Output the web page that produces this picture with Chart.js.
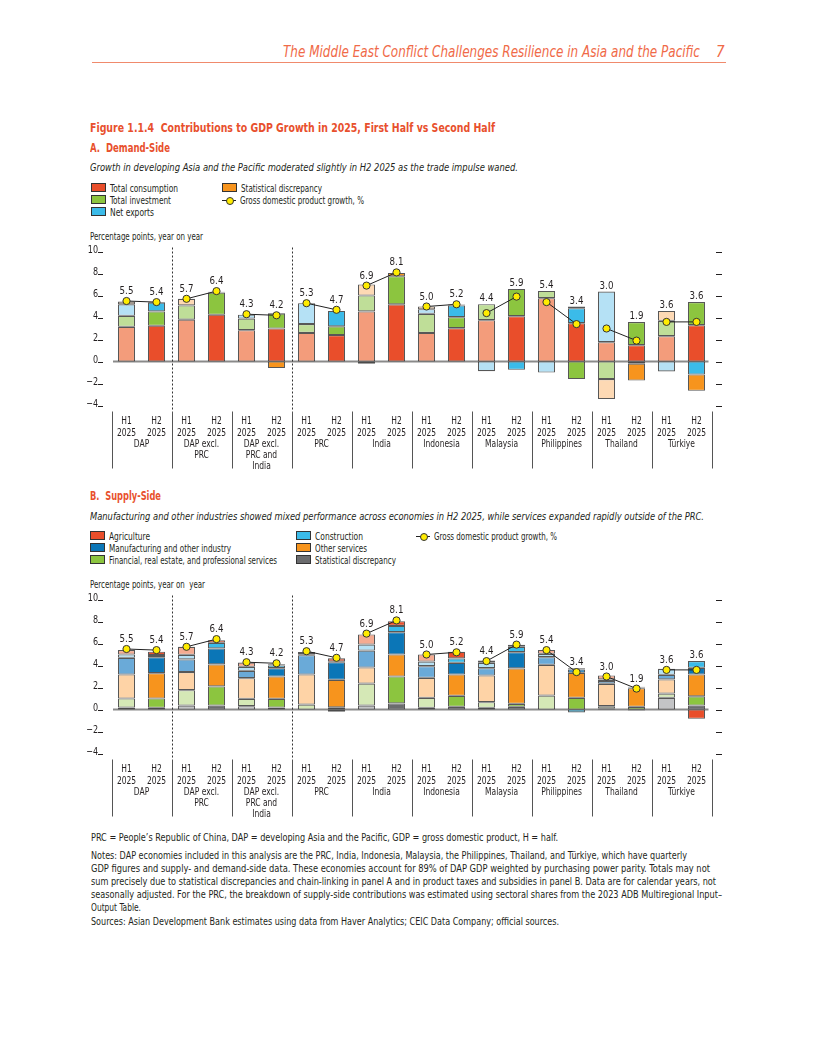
<!DOCTYPE html>
<html><head><meta charset="utf-8">
<script src="https://cdn.jsdelivr.net/npm/chart.js@4.4.1/dist/chart.umd.min.js"></script>
<style>
body{margin:0;background:#fff;}
#page{position:relative;width:816px;height:1056px;overflow:hidden;font-family:"DejaVu Sans Condensed","DejaVu Sans",sans-serif;color:#231f20;}
.t{position:absolute;white-space:nowrap;}
.hd{color:#e8502d;font-weight:bold;}
.sub{font-style:italic;font-size:11px;}
.lg{position:absolute;font-size:10px;line-height:12px;white-space:nowrap;}
.lg span[data-w]{display:inline-block;}
.sq{display:inline-block;width:12.5px;height:7px;border:1px solid #333;vertical-align:0px;margin-right:4px;}
.mk{display:inline-block;position:relative;width:14px;height:8px;margin-right:4px;vertical-align:0px;}
.mk:before{content:"";position:absolute;left:0;right:0;top:4px;border-top:1px solid #222;}
.mk:after{content:"";position:absolute;left:3.5px;top:0.5px;width:6px;height:6px;border-radius:50%;background:#ffec00;border:1px solid #333;}
.cw{position:absolute;left:0;width:816px;height:240px;}
.nl{position:absolute;left:91px;font-size:10px;line-height:13px;white-space:nowrap;color:#231f20;}
</style></head><body><div id="page">

<div class="t" data-w="417" data-o="right" style="right:116px;top:43px;font-size:15px;font-style:italic;color:#f06a48;">The Middle East Conflict Challenges Resilience in Asia and the Pacific</div>
<div class="t" style="left:716px;top:43px;font-size:15px;font-style:italic;color:#f06a48;">7</div>
<div style="position:absolute;left:92px;width:634px;top:62px;border-top:1px solid #f08a6c;"></div>

<div class="t hd" data-w="405" style="left:90px;top:120px;font-size:13px;"><span style="font-weight:900;">Figure 1.1.4</span>&nbsp; Contributions to GDP Growth in 2025, First Half vs Second Half</div>
<div class="t hd" data-w="80" style="left:90px;top:141px;font-size:11.5px;">A.&nbsp; Demand-Side</div>
<div class="t sub" data-w="428" style="left:90px;top:161px;">Growth in developing Asia and the Pacific moderated slightly in H2 2025 as the trade impulse waned.</div>

<div class="lg" style="left:91px;top:183px;"><span class="sq" style="background:#e94e2b"></span><span data-w="68">Total consumption</span></div>
<div class="lg" style="left:91px;top:195px;"><span class="sq" style="background:#8cc53f"></span><span data-w="61">Total investment</span></div>
<div class="lg" style="left:91px;top:207px;"><span class="sq" style="background:#3bbbe9"></span><span data-w="44">Net exports</span></div>
<div class="lg" style="left:222px;top:183px;"><span class="sq" style="background:#f7941d"></span><span data-w="81">Statistical discrepancy</span></div>
<div class="lg" style="left:222px;top:195px;"><span class="mk"></span><span data-w="124">Gross domestic product growth, %</span></div>
<div class="lg" style="left:90px;top:231px;"><span data-w="113">Percentage points, year on year</span></div>

<div class="cw" style="top:240px;"><canvas id="cA"></canvas></div>

<div class="t hd" data-w="71" style="left:90px;top:489px;font-size:11.5px;">B.&nbsp; Supply-Side</div>
<div class="t sub" data-w="614" style="left:90px;top:510px;">Manufacturing and other industries showed mixed performance across economies in H2 2025, while services expanded rapidly outside of the PRC.</div>

<div class="lg" style="left:90px;top:531px;"><span class="sq" style="background:#e94e2b"></span><span data-w="41">Agriculture</span></div>
<div class="lg" style="left:90px;top:543px;"><span class="sq" style="background:#0b76b7"></span><span data-w="122">Manufacturing and other industry</span></div>
<div class="lg" style="left:90px;top:555px;"><span class="sq" style="background:#8cc53f"></span><span data-w="168">Financial, real estate, and professional services</span></div>
<div class="lg" style="left:296px;top:531px;"><span class="sq" style="background:#3bbbe9"></span><span data-w="48">Construction</span></div>
<div class="lg" style="left:296px;top:543px;"><span class="sq" style="background:#f7941d"></span><span data-w="52">Other services</span></div>
<div class="lg" style="left:296px;top:555px;"><span class="sq" style="background:#6b6c6e"></span><span data-w="81">Statistical discrepancy</span></div>
<div class="lg" style="left:416px;top:531px;"><span class="mk"></span><span data-w="123">Gross domestic product growth, %</span></div>
<div class="lg" style="left:90px;top:579px;"><span data-w="115">Percentage points, year on&nbsp; year</span></div>

<div class="cw" style="top:588px;"><canvas id="cB"></canvas></div>

<div class="nl" data-w="467" style="top:831px;">PRC = People’s Republic of China, DAP = developing Asia and the Pacific, GDP = gross domestic product, H = half.</div>
<div class="nl" data-w="596" style="top:849px;">Notes: DAP economies included in this analysis are the PRC, India, Indonesia, Malaysia, the Philippines, Thailand, and Türkiye, which have quarterly</div>
<div class="nl" data-w="619" style="top:862px;">GDP figures and supply- and demand-side data. These economies account for 89% of DAP GDP weighted by purchasing power parity. Totals may not</div>
<div class="nl" data-w="625" style="top:875px;">sum precisely due to statistical discrepancies and chain-linking in panel A and in product taxes and subsidies in panel B. Data are for calendar years, not</div>
<div class="nl" data-w="631" style="top:888px;">seasonally adjusted. For the PRC, the breakdown of supply-side contributions was estimated using sectoral shares from the 2023 ADB Multiregional Input–</div>
<div class="nl" data-w="50" style="top:901px;">Output Table.</div>
<div class="nl" data-w="468" style="top:915px;">Sources: Asian Development Bank estimates using data from Haver Analytics; CEIC Data Company; official sources.</div>

</div>
<script>
// ---------- data ----------
const groups = [["DAP"],["DAP excl.","PRC"],["DAP excl.","PRC and","India"],["PRC"],["India"],["Indonesia"],["Malaysia"],["Philippines"],["Thailand"],["Türkiye"]];
const halves = ["H1","H2"];
const yearLabel = "2025";
const yTicks = [-4,-2,0,2,4,6,8,10];

const gdp = [5.5,5.4, 5.7,6.4, 4.3,4.2, 5.3,4.7, 6.9,8.1, 5.0,5.2, 4.4,5.9, 5.4,3.4, 3.0,1.9, 3.6,3.6];

// Panel A: demand side
const consumption = [3.15,3.25, 3.8,4.25, 2.85,3.0, 2.6,2.4, 4.55,5.2, 2.6,3.03, 3.76,4.12, 5.76,3.48, 1.76,1.48, 2.3,3.3];
const investment  = [1.0,1.3, 1.3,2.0, 1.05,1.35, 0.8,0.8, 1.45,2.55, 1.73,1.0, 1.45,2.48, 0.66,-1.6, -1.6,2.1, 1.4,2.1];
const netExports  = [1.05,0.8, 0,0.05, 0.35,0.05, 1.9,1.4, -0.2,0, 0.42,1.07, -0.88,-0.76, -1.0,1.37, 4.6,-0.2, -0.9,-1.18];
const statDiscA   = [0.25,0.05, 0.6,0.05, 0,-0.6, 0,0, 1.0,0.3, 0.25,0.08, 0,0, 0,0.15, -1.82,-1.53, 0.9,-1.48];

// Panel B: supply side
const statDiscB     = [0.18,0.15, 0.36,0.36, 0.3,0.18, 0,-0.2, 0.36,0.55, 0.15,0.24, 0.15,0.24, 0,0, 0.09,-0.1, 1.06,0.36];
const financial     = [0.82,0.85, 1.4,1.74, 0.67,0.79, 0.45,0.2, 2.0,2.45, 0.91,1.0, 0.52,0.28, 1.27,1.06, 0.21,0.24, 0.39,0.84];
const otherServices = [2.18,2.3, 1.64,2.0, 1.88,2.03, 2.73,2.5, 1.46,2.0, 1.82,1.94, 2.42,3.21, 2.79,2.27, 2.03,1.7, 1.28,1.98];
const manufacturing = [1.52,1.45, 1.15,1.45, 0.67,0.76, 1.76,1.6, 1.54,2.03, 1.06,1.06, 0.67,1.48, 0.7,0.31, 0.25,0.05, 0.42,0.61];
const construction  = [0.3,0.2, 0.42,0.51, 0.36,0.24, 0.08,0.05, 0.54,0.57, 0.42,0.4, 0.48,0.49, 0.3,-0.27, 0.15,0.03, 0.55,0.61];
const agriculture   = [0.4,0.3, 0.73,0.24, 0.39,0.12, 0.2,0.3, 0.92,0.43, 0.64,0.6, 0.21,0.18, 0.36,0.12, 0.36,0.05, 0,-0.85];

// ---------- text fitting ----------
function fitText(){
  document.querySelectorAll('[data-w]').forEach(el => {
    el.style.transform = 'none';
    const w = el.getBoundingClientRect().width;
    if (!w) return;
    el.style.transformOrigin = (el.dataset.o === 'right') ? 'right center' : 'left center';
    el.style.transform = 'scaleX(' + (parseFloat(el.dataset.w) / w) + ')';
  });
}
fitText();
if (document.fonts && document.fonts.ready) document.fonts.ready.then(fitText);

// ---------- styling ----------
const FONT = '"DejaVu Sans Condensed","DejaVu Sans",sans-serif';
const pair = (light, dark) => groups.flatMap(() => [light, dark]);
const barLabels = groups.flatMap(() => halves);

function barDs(label, data, light, dark){
  return {type:'bar', label, data, backgroundColor: pair(light, dark), borderColor:'rgba(45,45,45,0.8)', borderWidth:1.1, borderSkipped:false, stack:'s', order:2, barPercentage:0.57, categoryPercentage:1};
}
function gdpDs(){
  return {type:'line', label:'GDP', data:gdp, stack:'gdp', order:0, borderColor:'#222', borderWidth:1,
    pointBackgroundColor:'#ffec00', pointBorderColor:'#333', pointBorderWidth:1, pointRadius:3.6,
    segment:{borderColor: c => (c.p0DataIndex % 2 === 1) ? 'rgba(0,0,0,0)' : '#222'}};
}

function sText(ctx, txt, x, y, sx){
  ctx.save(); ctx.translate(x, y); ctx.scale(sx, 1); ctx.fillText(txt, 0, 0); ctx.restore();
}

const decor = {
  id:'decor',
  beforeDatasetsDraw(chart){
    const {ctx, chartArea:a, scales:{y}} = chart;
    ctx.save();
    ctx.strokeStyle = '#8a8a8a'; ctx.lineWidth = 2;
    ctx.beginPath(); ctx.moveTo(a.left+1.5, y.getPixelForValue(0)); ctx.lineTo(a.right-3, y.getPixelForValue(0)); ctx.stroke();
    ctx.restore();
  },
  afterDatasetsDraw(chart){
    const {ctx, chartArea:a, scales:{x,y}} = chart;
    ctx.save();
    ctx.fillStyle = '#231f20'; ctx.strokeStyle = '#231f20'; ctx.lineWidth = 1;
    // y labels and tick marks
    ctx.font = '10.5px ' + FONT; ctx.textAlign = 'right'; ctx.textBaseline = 'alphabetic';
    yTicks.forEach(v => {
      const py = Math.round(y.getPixelForValue(v)) + 0.5;
      sText(ctx, (v < 0 ? '\u2212' + (-v) : String(v)), a.left - 13.5, py, 0.85);
      ctx.beginPath(); ctx.moveTo(a.left - 13.5, py); ctx.lineTo(a.left - 8.5, py); ctx.stroke();
      ctx.beginPath(); ctx.moveTo(a.right + 4.5, py); ctx.lineTo(a.right + 10.5, py); ctx.stroke();
    });
    // dashed separators
    const slot = x.getPixelForValue(1) - x.getPixelForValue(0);
    const yBot = y.getPixelForValue(-4);
    ctx.setLineDash([2,2]); ctx.strokeStyle = '#333';
    [2,6].forEach(i => {
      const px = Math.round(x.getPixelForValue(i) - slot/2) + 0.5;
      ctx.beginPath(); ctx.moveTo(px, a.top - 4); ctx.lineTo(px, yBot + 5); ctx.stroke();
    });
    ctx.setLineDash([]);
    // category table
    ctx.strokeStyle = '#555';
    for (let k = 0; k <= groups.length; k++){
      const px = Math.round(x.getPixelForValue(k*2) - slot/2) + 0.5;
      ctx.beginPath(); ctx.moveTo(px, yBot + 6); ctx.lineTo(px, yBot + 63); ctx.stroke();
    }
    ctx.textAlign = 'center'; ctx.textBaseline = 'middle'; ctx.font = '10.5px ' + FONT;
    barLabels.forEach((lb, i) => {
      const px = x.getPixelForValue(i);
      sText(ctx, lb, px, yBot + 15.5, 0.8);
      sText(ctx, yearLabel, px, yBot + 27.5, 0.8);
    });
    groups.forEach((g, k) => {
      const px = (x.getPixelForValue(2*k) + x.getPixelForValue(2*k+1)) / 2;
      g.forEach((ln, j) => sText(ctx, ln, px, yBot + 38.5 + 11*j, 0.8));
    });
    // gdp value labels
    ctx.font = '10.5px ' + FONT; ctx.textBaseline = 'alphabetic';
    const bars = chart.data.datasets.filter(d => d.type === 'bar');
    gdp.forEach((g, i) => {
      const pos = bars.reduce((s, d) => s + Math.max(0, d.data[i]), 0);
      const top = Math.min(y.getPixelForValue(pos), y.getPixelForValue(g) - 4);
      sText(ctx, g.toFixed(1), x.getPixelForValue(i), top - 3, 0.92);
    });
    ctx.restore();
  }
};

function makeChart(id, datasets){
  return new Chart(document.getElementById(id), {
    data:{labels: barLabels.map((l,i)=>l+'-'+i), datasets},
    options:{
      responsive:true, maintainAspectRatio:false, animation:false,
      layout:{padding:{left:111.5, right:104.5, top:11.5, bottom:74.5}},
      plugins:{legend:{display:false}, tooltip:{enabled:false}},
      scales:{
        x:{display:false, stacked:true, offset:true},
        y:{display:false, stacked:true, min:-4, max:10}
      }
    },
    plugins:[decor]
  });
}

makeChart('cA', [
  barDs('Total consumption', consumption, '#f39c7b', '#e94e2b'),
  barDs('Total investment', investment, '#bfde98', '#8cc53f'),
  barDs('Net exports', netExports, '#b5e1f5', '#3bbbe9'),
  barDs('Statistical discrepancy', statDiscA, '#fdd9b4', '#f7941d'),
  gdpDs()
]);
makeChart('cB', [
  barDs('Statistical discrepancy', statDiscB, '#c3c4c6', '#6b6c6e'),
  barDs('Financial, real estate, and professional services', financial, '#d5e8b6', '#8cc53f'),
  barDs('Other services', otherServices, '#fed3a6', '#f7941d'),
  barDs('Manufacturing and other industry', manufacturing, '#6aaad8', '#0b76b7'),
  barDs('Construction', construction, '#b5e1f5', '#3bbbe9'),
  barDs('Agriculture', agriculture, '#f5ab91', '#e94e2b'),
  gdpDs()
]);
</script>
</body></html>
